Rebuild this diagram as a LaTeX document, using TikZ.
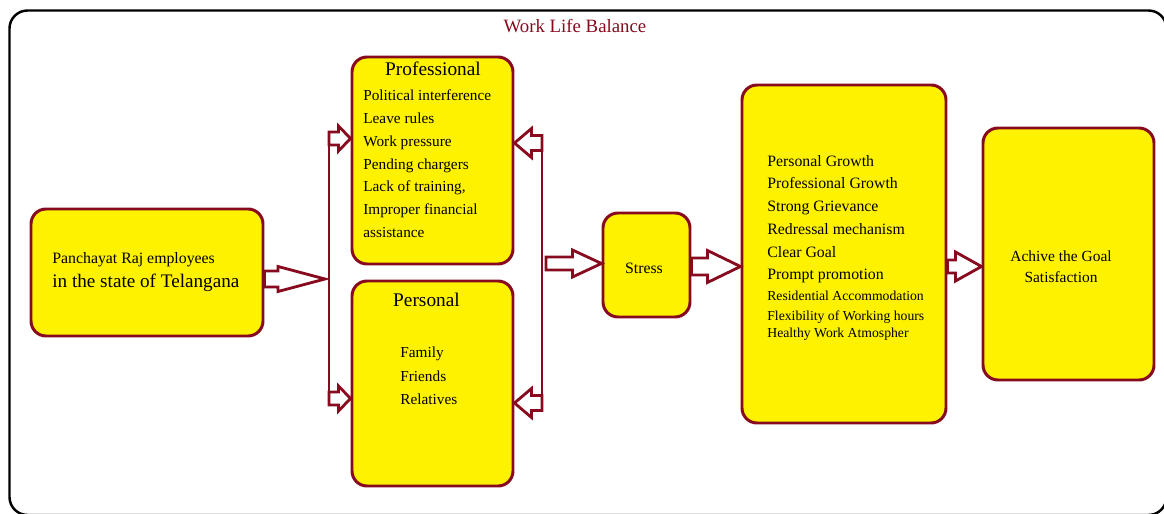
\documentclass[tikz,border=0pt]{standalone}
\usepackage{fontspec}
\setmainfont{Liberation Serif}
\usetikzlibrary{positioning, calc}
\definecolor{boxred}{RGB}{135,10,30}
\definecolor{boxyellow}{RGB}{255,242,0}
\tikzset{
  box/.style={draw=boxred, fill=boxyellow, line width=1.7pt, rounded corners=0.3cm, inner sep=0pt},
  blockarr/.style={draw=boxred, fill=white, line width=1.6pt, line join=miter},
  brace/.style={draw=boxred, line width=1.7pt},
  item/.style={font=\fontsize{8.7}{10}\selectfont, inner sep=0pt, anchor=base west},
  smallitem/.style={font=\fontsize{7.8}{9}\selectfont, inner sep=0pt, anchor=base west},
  boxtitle/.style={font=\fontsize{11}{12}\selectfont, inner sep=0pt, anchor=base}
}
% #1 from, #2 to, #3 half shaft, #4 half head, #5 head length (negative = pointing left)
\newcommand{\blockarrow}[5]{%
  \draw[blockarr] let \p1=#1, \p2=#2 in
    (\x1,{\y1+#3}) -- ({\x2-(#5)},{\y1+#3}) -- ({\x2-(#5)},{\y1+#4}) -- (\x2,\y1)
    -- ({\x2-(#5)},{\y1-#4}) -- ({\x2-(#5)},{\y1-#3}) -- (\x1,{\y1-#3}) -- cycle;}

\begin{document}
\begin{tikzpicture}
\useasboundingbox (0,0) rectangle (23.28,-10.28);
%outer frame and title
\draw[black, line width=1.4pt, rounded corners=0.36cm] (0.19,-0.21) rectangle (23.33,-10.30);
\node[font=\fontsize{10.7}{12}\selectfont, text=boxred] (ttl) at (11.50,-0.52) {Work Life Balance};
%boxes
\node[box, minimum width=4.64cm, minimum height=2.54cm] (emp) at (2.94,-5.45) {};
\node[box, minimum width=3.22cm, minimum height=4.14cm] (prof) at (8.65,-3.21) {};
\node[box, minimum width=3.22cm, minimum height=4.10cm] (pers) at (8.65,-7.67) {};
\node[box, minimum width=1.74cm, minimum height=2.08cm] (stress) at (12.93,-5.30) {};
\node[box, minimum width=4.08cm, minimum height=6.76cm] (list) at (16.88,-5.08) {};
\node[box, minimum width=3.42cm, minimum height=5.04cm] (goal) at (21.37,-5.08) {};
%texts of the boxes
\node[font=\fontsize{9}{10}\selectfont, inner sep=0pt, anchor=base west] (emp1) at (1.04,-5.28) {Panchayat Raj employees};
\node[font=\fontsize{10.9}{12}\selectfont, inner sep=0pt, anchor=base west] (emp2) at (1.04,-5.76) {in the state of Telangana};
\node[boxtitle] (proft) at (8.66,-1.52) {Professional};
\foreach \t [count=\i] in {Political interference, Leave rules, Work pressure, Pending chargers,
    {Lack of training,}, Improper financial, assistance}
  \node[item] (p\i) at (7.26,{-2.02-0.454*(\i-1)}) {\t};
\node[boxtitle] (perst) at (8.53,-6.14) {Personal};
\foreach \t [count=\i] in {Family, Friends, Relatives}
  \node[item] (f\i) at (8.00,{-7.16-0.46*(\i-1)}) {\t};
\node[font=\fontsize{9}{10}\selectfont, inner sep=0pt, anchor=base] (stresst) at (12.88,-5.46) {Stress};
\foreach \t [count=\i] in {Personal Growth, Professional Growth, Strong Grievance,
    Redressal mechanism, Clear Goal, Prompt promotion}
  \node[item, font=\fontsize{9}{10}\selectfont] (g\i) at (15.34,{-3.32-0.456*(\i-1)}) {\t};
\node[smallitem] (g7) at (15.34,-6.00) {Residential Accommodation};
\node[smallitem] (g8) at (15.34,-6.42) {Flexibility of Working hours};
\node[smallitem] (g9) at (15.34,-6.76) {Healthy Work Atmospher};
\node[font=\fontsize{8.8}{10}\selectfont, inner sep=0pt, anchor=base] (goal1) at (21.22,-5.24) {Achive the Goal};
\node[font=\fontsize{8.8}{10}\selectfont, inner sep=0pt, anchor=base] (goal2) at (21.22,-5.66) {Satisfaction};
%brackets
\coordinate (lbm) at (6.50,-5.58);
\coordinate (lb1) at (6.58,-2.77);
\coordinate (lb2) at (6.58,-7.97);
\coordinate (rb1) at (10.84,-2.86);
\coordinate (rb2) at (10.84,-8.06);
\coordinate (rbm) at (10.92,-5.27);
\draw[brace] ([yshift=0.13cm]lb1) -- ([yshift=-0.13cm]lb2);
\draw[brace] ([yshift=0.15cm]rb1) -- ([yshift=-0.15cm]rb2);
%block arrows
\blockarrow{(emp.east |- lbm)}{(lbm)}{0.16cm}{0.25cm}{0.94cm}
\blockarrow{(lb1)}{(lb1 -| prof.west)}{0.13cm}{0.25cm}{0.24cm}
\blockarrow{(lb2)}{(lb2 -| pers.west)}{0.13cm}{0.25cm}{0.24cm}
\blockarrow{(rb1)}{(rb1 -| prof.east)}{0.15cm}{0.29cm}{-0.34cm}
\blockarrow{(rb2)}{(rb2 -| pers.east)}{0.15cm}{0.29cm}{-0.34cm}
\blockarrow{(rbm)}{(rbm -| stress.west)}{0.13cm}{0.27cm}{0.58cm}
\blockarrow{([yshift=-0.03cm]stress.east)}{([yshift=-0.03cm]stress.east -| list.west)}{0.17cm}{0.32cm}{0.66cm}
\blockarrow{([yshift=-0.25cm]list.east)}{([yshift=-0.25cm]list.east -| goal.west)}{0.13cm}{0.29cm}{0.52cm}
\end{tikzpicture}
\end{document}
